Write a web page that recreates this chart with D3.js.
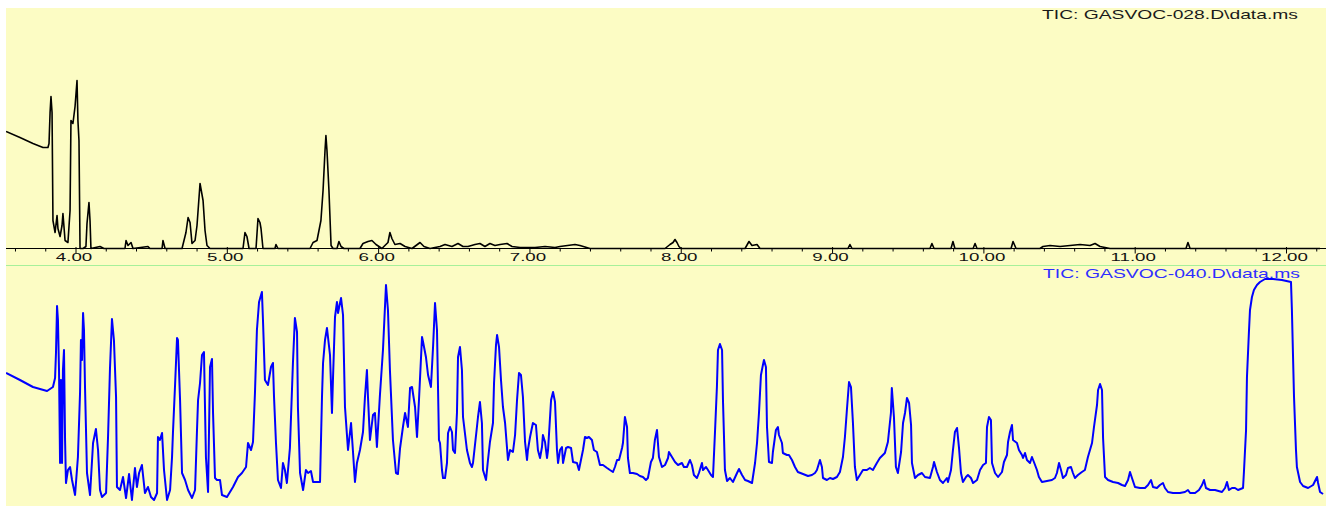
<!DOCTYPE html>
<html>
<head>
<meta charset="utf-8">
<script src="https://cdn.jsdelivr.net/npm/d3@7"></script>
<style>
body { margin: 0; background: #fff; }
svg { display: block; font-family: "Liberation Sans", Arial, sans-serif; }
</style>
</head>
<body>
<svg id="chart" width="1326" height="506"></svg>
<script>
// retention time ticks (min)
let majorTicks = [4, 5, 6, 7, 8, 9, 10, 11, 12];
let tickLabels = ['4.00', '5.00', '6.00', '7.00', '8.00', '9.00', '10.00', '11.00', '12.00'];

let title028 = 'TIC: GASVOC-028.D\\data.ms';
let title040 = 'TIC: GASVOC-040.D\\data.ms';

// [time (min), abundance (arb.)]
let tic028 = [[3.541,117],[3.633,111],[3.719,105],[3.785,101],[3.818,101],[3.825,105],[3.832,136],[3.838,152],[3.845,136],[3.851,28],
[3.865,16],[3.878,33],[3.884,20],[3.898,12],[3.911,23],[3.917,35],[3.931,8],[3.950,6],[3.964,38],[3.970,128],
[3.983,125],[3.997,142],[4.010,168],[4.016,128],[4.023,108],[4.030,0],[4.050,0],[4.069,2],[4.076,25],[4.089,46],
[4.096,28],[4.102,0],[4.162,2],[4.188,0],[4.327,0],[4.334,8],[4.347,3],[4.367,6],[4.380,0],[4.479,2],
[4.492,0],[4.572,0],[4.578,8],[4.592,0],[4.704,0],[4.730,16],[4.744,31],[4.757,26],[4.770,5],[4.790,8],
[4.803,23],[4.823,65],[4.843,48],[4.856,18],[4.869,3],[4.889,0],[5.107,0],[5.120,16],[5.133,12],[5.147,0],
[5.193,0],[5.206,30],[5.219,26],[5.226,20],[5.239,0],[5.318,0],[5.325,4],[5.338,0],[5.550,0],[5.570,6],
[5.596,8],[5.609,18],[5.622,28],[5.636,58],[5.649,98],[5.655,113],[5.662,98],[5.675,58],[5.689,3],[5.702,0],
[5.728,0],[5.741,7],[5.755,2],[5.774,0],[5.880,0],[5.900,5],[5.933,7],[5.959,8],[5.986,4],[6.025,0],
[6.065,6],[6.078,16],[6.091,10],[6.111,4],[6.145,5],[6.178,2],[6.224,0],[6.277,6],[6.303,2],[6.343,0],
[6.409,2],[6.442,4],[6.488,2],[6.528,5],[6.561,2],[6.594,2],[6.640,4],[6.673,5],[6.706,2],[6.739,5],
[6.772,3],[6.806,4],[6.852,5],[6.885,2],[6.938,1],[7.037,1],[7.103,2],[7.169,1],[7.202,2],[7.301,4],
[7.334,3],[7.400,0],[7.896,0],[7.929,4],[7.949,6],[7.962,9],[7.975,6],[7.988,2],[8.002,0],[8.425,0],
[8.451,7],[8.471,3],[8.504,4],[8.524,0],[9.105,0],[9.118,4],[9.132,0],[9.647,0],[9.660,5],[9.674,0],
[9.786,0],[9.799,7],[9.812,0],[9.932,0],[9.945,5],[9.958,0],[10.183,0],[10.196,7],[10.216,0],[10.374,0],
[10.394,2],[10.441,3],[10.507,2],[10.573,3],[10.639,4],[10.705,3],[10.738,5],[10.771,2],[10.804,1],[10.837,0],
[11.339,0],[11.352,6],[11.366,0],[12.225,0]];

let tic040 = [[3.541,130],[3.633,123],[3.719,116],[3.812,112],[3.851,116],[3.865,125],[3.871,150],[3.878,197],[3.884,183],[3.891,133],
[3.898,40],[3.904,123],[3.911,40],[3.917,133],[3.924,153],[3.931,63],[3.937,20],[3.950,33],[3.964,36],[3.977,23],
[3.997,8],[4.016,46],[4.030,110],[4.036,163],[4.043,143],[4.050,190],[4.056,173],[4.063,115],[4.076,30],[4.096,8],
[4.116,60],[4.135,74],[4.149,53],[4.162,13],[4.175,6],[4.202,10],[4.215,66],[4.228,135],[4.241,184],[4.254,163],
[4.268,106],[4.274,16],[4.294,13],[4.314,26],[4.334,5],[4.354,29],[4.373,3],[4.393,35],[4.406,16],[4.420,30],
[4.439,38],[4.459,10],[4.479,16],[4.499,6],[4.519,3],[4.539,10],[4.545,66],[4.558,63],[4.572,70],[4.585,33],
[4.605,3],[4.625,13],[4.638,46],[4.644,70],[4.658,118],[4.671,165],[4.677,163],[4.691,103],[4.704,30],[4.724,23],
[4.744,13],[4.770,5],[4.790,13],[4.803,73],[4.810,103],[4.823,120],[4.836,148],[4.849,151],[4.862,46],[4.876,11],
[4.889,136],[4.902,144],[4.909,90],[4.922,25],[4.935,23],[4.955,23],[4.968,8],[5.001,6],[5.041,16],[5.074,26],
[5.100,30],[5.127,36],[5.140,60],[5.160,53],[5.173,61],[5.186,110],[5.199,173],[5.213,201],[5.232,211],[5.239,183],
[5.252,123],[5.272,118],[5.292,136],[5.305,140],[5.312,106],[5.325,60],[5.338,23],[5.358,15],[5.371,40],[5.384,33],
[5.397,20],[5.417,55],[5.437,140],[5.450,185],[5.464,171],[5.470,96],[5.484,30],[5.504,13],[5.523,33],[5.537,30],
[5.556,32],[5.570,21],[5.616,21],[5.629,106],[5.636,140],[5.649,163],[5.662,175],[5.682,148],[5.695,90],[5.702,126],
[5.715,186],[5.728,201],[5.735,190],[5.748,200],[5.755,205],[5.768,188],[5.781,96],[5.801,53],[5.821,80],[5.834,51],
[5.847,21],[5.860,40],[5.880,53],[5.900,71],[5.913,106],[5.926,133],[5.933,106],[5.946,63],[5.966,88],[5.979,90],
[5.992,56],[6.012,108],[6.032,153],[6.052,218],[6.065,193],[6.078,133],[6.098,63],[6.118,30],[6.131,29],[6.145,55],
[6.164,76],[6.178,90],[6.197,76],[6.211,115],[6.224,116],[6.244,96],[6.257,66],[6.270,103],[6.290,166],[6.297,161],
[6.316,146],[6.330,128],[6.349,116],[6.363,156],[6.376,200],[6.389,173],[6.402,63],[6.409,60],[6.422,33],[6.429,25],
[6.442,25],[6.455,40],[6.462,70],[6.475,76],[6.488,71],[6.495,53],[6.508,50],[6.521,90],[6.528,146],[6.541,156],
[6.554,133],[6.561,86],[6.587,53],[6.607,40],[6.620,36],[6.627,40],[6.653,76],[6.660,86],[6.673,101],[6.686,80],
[6.693,33],[6.713,23],[6.726,43],[6.739,61],[6.759,80],[6.766,120],[6.779,158],[6.786,168],[6.799,156],[6.812,123],
[6.825,96],[6.839,80],[6.858,43],[6.872,53],[6.891,51],[6.905,68],[6.918,103],[6.931,130],[6.944,128],[6.957,106],
[6.971,61],[6.984,43],[6.990,53],[7.004,66],[7.023,80],[7.043,78],[7.056,53],[7.070,45],[7.083,56],[7.089,68],
[7.103,61],[7.116,45],[7.123,53],[7.143,103],[7.156,111],[7.169,101],[7.182,53],[7.189,40],[7.202,53],[7.215,56],
[7.222,40],[7.242,55],[7.255,56],[7.275,55],[7.288,41],[7.314,40],[7.327,33],[7.354,53],[7.367,66],[7.380,65],
[7.393,66],[7.413,63],[7.426,53],[7.446,51],[7.466,38],[7.486,38],[7.513,35],[7.532,33],[7.552,31],[7.565,36],
[7.579,43],[7.592,43],[7.612,55],[7.618,60],[7.631,86],[7.645,76],[7.651,45],[7.664,30],[7.684,30],[7.711,29],
[7.730,27],[7.750,26],[7.770,23],[7.783,25],[7.803,41],[7.816,45],[7.829,63],[7.843,73],[7.856,46],[7.876,36],
[7.896,38],[7.916,45],[7.922,51],[7.942,46],[7.962,41],[7.982,38],[8.008,40],[8.021,36],[8.041,36],[8.061,43],
[8.074,38],[8.087,28],[8.107,25],[8.120,30],[8.140,40],[8.147,33],[8.167,36],[8.180,33],[8.200,28],[8.213,26],
[8.226,70],[8.239,116],[8.246,153],[8.259,159],[8.273,153],[8.279,103],[8.292,33],[8.306,22],[8.325,25],[8.345,21],
[8.372,30],[8.385,34],[8.405,28],[8.425,23],[8.444,22],[8.471,20],[8.491,40],[8.504,60],[8.517,90],[8.530,128],
[8.543,138],[8.550,143],[8.563,136],[8.570,76],[8.583,41],[8.603,40],[8.609,51],[8.629,73],[8.642,76],[8.649,68],
[8.669,60],[8.675,50],[8.702,48],[8.715,48],[8.735,43],[8.755,36],[8.774,31],[8.808,29],[8.841,27],[8.867,28],
[8.887,30],[8.900,33],[8.920,43],[8.933,36],[8.940,25],[8.966,23],[8.986,25],[9.006,24],[9.032,26],[9.052,31],
[9.072,46],[9.085,66],[9.098,93],[9.112,121],[9.125,116],[9.138,80],[9.151,36],[9.164,23],[9.184,28],[9.204,33],
[9.230,33],[9.250,35],[9.270,33],[9.296,40],[9.316,45],[9.349,50],[9.369,61],[9.389,90],[9.395,115],[9.409,86],
[9.422,36],[9.435,30],[9.456,51],[9.469,80],[9.482,90],[9.495,105],[9.509,100],[9.522,78],[9.528,40],[9.548,25],
[9.568,28],[9.594,30],[9.614,26],[9.647,25],[9.667,36],[9.674,41],[9.693,31],[9.713,23],[9.733,20],[9.759,25],
[9.766,21],[9.786,33],[9.799,53],[9.812,71],[9.826,75],[9.839,55],[9.852,30],[9.865,21],[9.885,26],[9.898,28],
[9.918,25],[9.932,20],[9.958,23],[9.978,33],[9.998,38],[10.017,40],[10.024,76],[10.037,86],[10.050,83],[10.057,40],
[10.077,30],[10.097,26],[10.123,31],[10.136,41],[10.156,48],[10.163,61],[10.176,71],[10.189,78],[10.196,63],[10.222,60],
[10.235,53],[10.255,48],[10.262,45],[10.275,50],[10.288,43],[10.308,40],[10.321,46],[10.334,41],[10.354,33],[10.367,26],
[10.387,21],[10.420,22],[10.453,23],[10.473,25],[10.486,30],[10.500,40],[10.513,33],[10.526,25],[10.546,28],[10.559,35],
[10.579,36],[10.592,30],[10.605,25],[10.625,28],[10.651,31],[10.671,33],[10.691,46],[10.718,60],[10.731,76],[10.751,98],
[10.758,113],[10.771,119],[10.784,113],[10.791,65],[10.804,26],[10.824,23],[10.857,21],[10.890,20],[10.916,18],[10.936,17],
[10.956,23],[10.969,31],[10.982,25],[11.002,16],[11.035,15],[11.068,15],[11.088,18],[11.108,23],[11.121,16],[11.147,15],
[11.167,18],[11.187,20],[11.200,15],[11.220,11],[11.253,10],[11.299,10],[11.332,11],[11.352,13],[11.366,10],[11.399,10],
[11.425,13],[11.445,18],[11.458,23],[11.471,15],[11.498,13],[11.531,13],[11.577,11],[11.597,15],[11.610,21],[11.623,13],
[11.643,15],[11.663,15],[11.683,13],[11.716,15],[11.722,31],[11.736,73],[11.742,126],[11.755,171],[11.762,193],[11.775,206],
[11.788,213],[11.808,218],[11.828,221],[11.861,224],[11.914,224],[11.973,223],[12.033,221],[12.039,193],[12.053,106],[12.066,53],
[12.072,36],[12.093,21],[12.113,17],[12.146,15],[12.179,18],[12.205,26],[12.212,20],[12.225,11],[12.245,9]];

let svg = d3.select('#chart');

let x = d3.scaleLinear().domain([4, 12]).range([75.5, 1286]);
let yTop = d3.scaleLinear().domain([0, 240]).range([248.5, 8.5]);
let yBot = d3.scaleLinear().domain([0, 240]).range([503, 263]);

// panel backgrounds
svg.append('rect').attr('x', 6).attr('y', 8).attr('width', 1320).attr('height', 258).attr('fill', '#fcfcc4');
svg.append('rect').attr('x', 6).attr('y', 266).attr('width', 1320).attr('height', 240).attr('fill', '#fcfcc4');

let defs = svg.append('defs');
defs.append('clipPath').attr('id', 'clipTop')
	.append('rect').attr('x', 6).attr('y', 8).attr('width', 1320).attr('height', 245);
defs.append('clipPath').attr('id', 'clipBot')
	.append('rect').attr('x', 6).attr('y', 266).attr('width', 1320).attr('height', 240);

let lineTop = d3.line().x(d => x(d[0])).y(d => yTop(d[1]));
let lineBot = d3.line().x(d => x(d[0])).y(d => yBot(d[1]));

svg.append('path')
	.attr('clip-path', 'url(#clipTop)')
	.attr('d', lineTop(tic028))
	.attr('fill', 'none')
	.attr('stroke', '#000')
	.attr('stroke-width', 1.6)
	.attr('stroke-linejoin', 'round');

svg.append('path')
	.attr('clip-path', 'url(#clipBot)')
	.attr('d', lineBot(tic040))
	.attr('fill', 'none')
	.attr('stroke', '#0000ff')
	.attr('stroke-width', 2)
	.attr('stroke-linejoin', 'round');

// time axis
svg.append('line')
	.attr('x1', 6).attr('x2', 1326)
	.attr('y1', 248.5).attr('y2', 248.5)
	.attr('stroke', '#000');

let minorTicks = d3.range(3.6, 12.3, 0.2).filter(d => Math.abs(d - Math.round(d)) > 0.01);
let minorAxis = d3.axisBottom(x).tickValues(minorTicks).tickSize(3).tickFormat('');
svg.append('g').attr('transform', 'translate(0,248.5)').call(minorAxis)
	.call(g => g.select('.domain').remove());

let majorAxis = d3.axisBottom(x)
	.tickValues(majorTicks)
	.tickFormat((d, i) => tickLabels[i])
	.tickSize(6.5)
	.tickPadding(0);
let gMajor = svg.append('g').attr('transform', 'translate(0,247)').call(majorAxis)
	.call(g => g.select('.domain').remove());
gMajor.selectAll('line').attr('stroke', '#000');
gMajor.selectAll('text')
	.attr('font-family', '"Liberation Sans", Arial, sans-serif')
	.attr('font-size', 11)
	.attr('fill', '#111')
	.attr('dx', -2)
	.each(function() {
		let w = this.getComputedTextLength();
		d3.select(this).attr('textLength', w * 1.7).attr('lengthAdjust', 'spacingAndGlyphs');
	});

// separator between the two traces
svg.append('line')
	.attr('x1', 6).attr('x2', 1326)
	.attr('y1', 265.5).attr('y2', 265.5)
	.attr('stroke', '#a6f09a');

// trace titles
svg.append('text')
	.attr('x', 1042).attr('y', 19)
	.attr('font-size', 13)
	.attr('fill', '#1a1a1a')
	.attr('textLength', 256).attr('lengthAdjust', 'spacingAndGlyphs')
	.text(title028);

svg.append('text')
	.attr('x', 1043).attr('y', 278)
	.attr('font-size', 13)
	.attr('fill', '#2e2eff')
	.attr('textLength', 257).attr('lengthAdjust', 'spacingAndGlyphs')
	.text(title040);
</script>
</body>
</html>
